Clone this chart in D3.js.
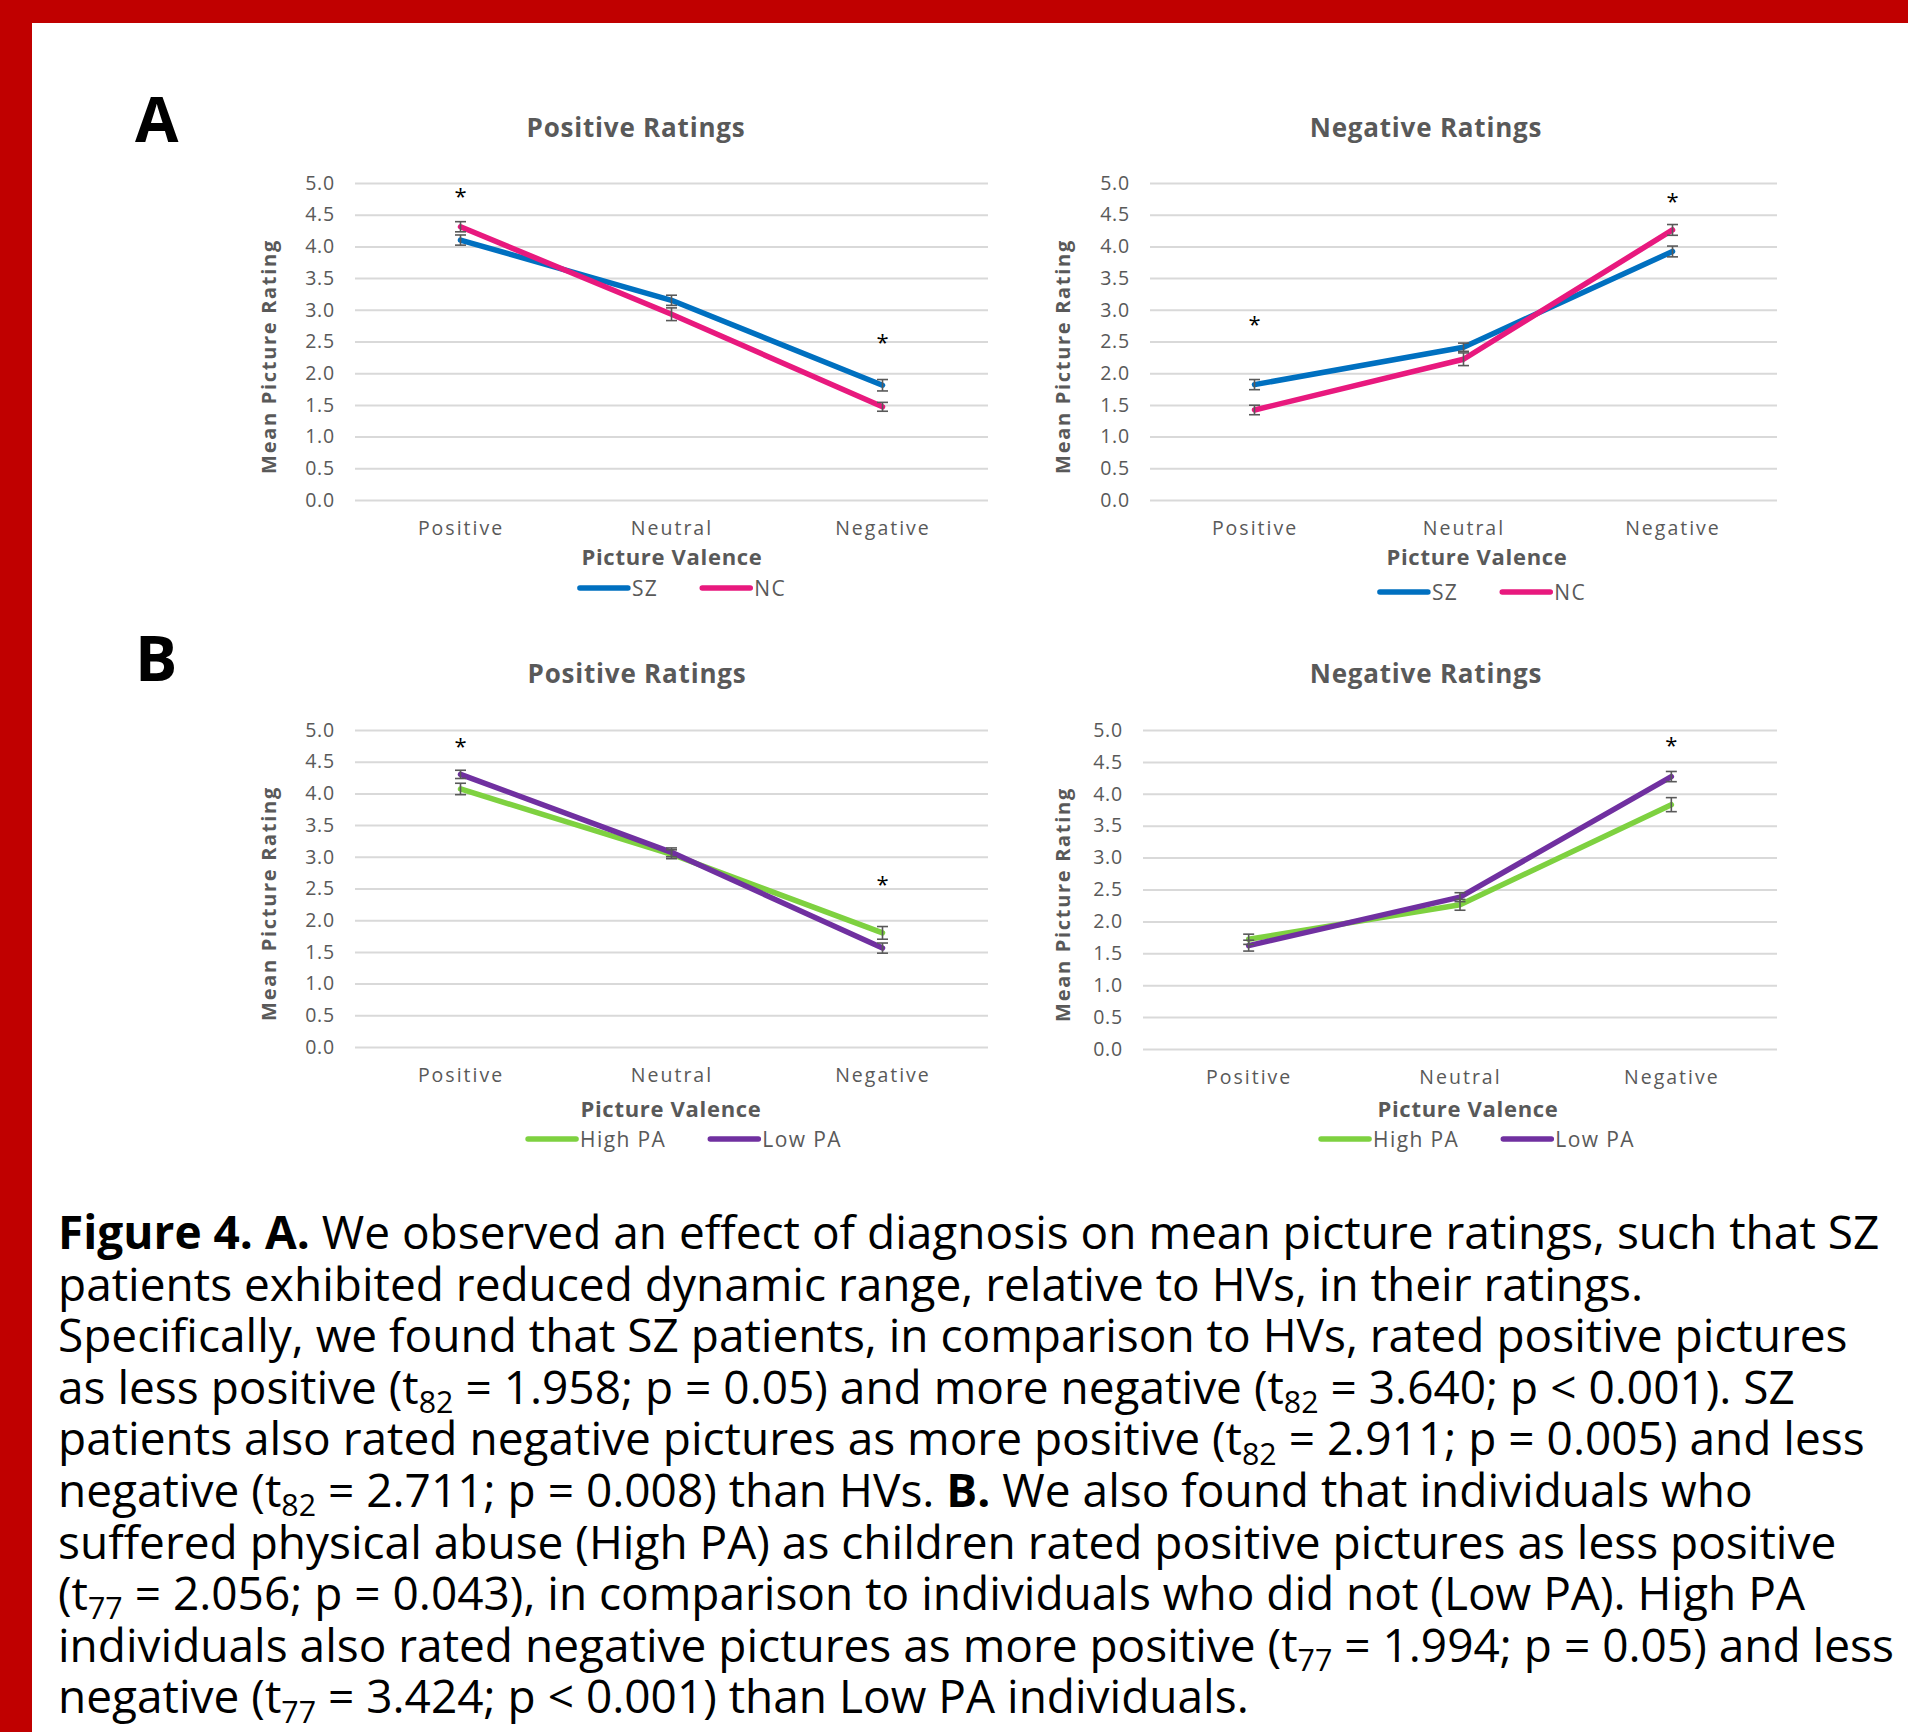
<!DOCTYPE html>
<html>
<head>
<meta charset="utf-8">
<script src="https://cdn.jsdelivr.net/npm/d3@7"></script>
<style>
body { margin: 0; background: #fff; }
text { font-family: "Open Sans", sans-serif; }
</style>
</head>
<body>
<script>
'use strict';

const W = 1908;
const H = 1732;

// categories / ticks
const valence = ['Positive', 'Neutral', 'Negative'];
const yTicks = [0, 0.5, 1, 1.5, 2, 2.5, 3, 3.5, 4, 4.5, 5];

// A - diagnosis, positive ratings
const szPositive = [4.10, 3.15, 1.81];
const szPositiveErr = [0.08, 0.08, 0.09];
const ncPositive = [4.31, 2.93, 1.47];
const ncPositiveErr = [0.08, 0.10, 0.07];
const sigAPositive = [4.86, null, 2.55];

// A - diagnosis, negative ratings
const szNegative = [1.82, 2.41, 3.92];
const szNegativeErr = [0.08, 0.065, 0.085];
const ncNegative = [1.42, 2.22, 4.26];
const ncNegativeErr = [0.075, 0.10, 0.085];
const sigANegative = [2.84, null, 4.78];

// B - physical abuse, positive ratings
const highPositive = [4.07, 3.04, 1.80];
const highPositiveErr = [0.09, 0.07, 0.10];
const lowPositive = [4.30, 3.07, 1.56];
const lowPositiveErr = [0.065, 0.07, 0.08];
const sigBPositive = [4.81, null, 2.63];

// B - physical abuse, negative ratings
const highNegative = [1.72, 2.26, 3.83];
const highNegativeErr = [0.08, 0.085, 0.11];
const lowNegative = [1.62, 2.38, 4.27];
const lowNegativeErr = [0.085, 0.07, 0.08];
const sigBNegative = [null, null, 4.82];

const caption = [
  '**Figure 4. A.** We observed an effect of diagnosis on mean picture ratings, such that SZ',
  'patients exhibited reduced dynamic range, relative to HVs, in their ratings.',
  'Specifically, we found that SZ patients, in comparison to HVs, rated positive pictures',
  'as less positive (t_{82} = 1.958; p = 0.05) and more negative (t_{82} = 3.640; p < 0.001). SZ',
  'patients also rated negative pictures as more positive (t_{82} = 2.911; p = 0.005) and less',
  'negative (t_{82} = 2.711; p = 0.008) than HVs. **B.** We also found that individuals who',
  'suffered physical abuse (High PA) as children rated positive pictures as less positive',
  '(t_{77} = 2.056; p = 0.043), in comparison to individuals who did not (Low PA). High PA',
  'individuals also rated negative pictures as more positive (t_{77} = 1.994; p = 0.05) and less',
  'negative (t_{77} = 3.424; p < 0.001) than Low PA individuals.'
];

const BLUE = '#0070c0';
const PINK = '#e8197e';
const GREEN = '#7ed140';
const PURPLE = '#7030a0';
const GREY = '#595959';

const svg = d3.select('body').append('svg').attr('width', W).attr('height', H);

// red frame
svg.append('rect').attr('x', 0).attr('y', 0).attr('width', W).attr('height', 23).attr('fill', '#c00000');
svg.append('rect').attr('x', 0).attr('y', 0).attr('width', 32).attr('height', H).attr('fill', '#c00000');

// panel letters
svg.append('text').text('A').attr('x', 135).attr('y', 142)
  .attr('font-size', 63).attr('font-weight', 700).attr('fill', '#000');
svg.append('text').text('B').attr('x', 135).attr('y', 681)
  .attr('font-size', 63).attr('font-weight', 700).attr('fill', '#000');

const panels = [
  {
    left: 355, right: 988, top: 183, bottom: 500,
    title: 'Positive Ratings', titleX: 636, titleY: 137,
    yTitleX: 269, xTitleX: 672, xTitleY: 565, legendX: 683, legendY: 588,
    series: [
      { name: 'SZ', values: szPositive, err: szPositiveErr, color: BLUE },
      { name: 'NC', values: ncPositive, err: ncPositiveErr, color: PINK }
    ],
    sig: sigAPositive
  },
  {
    left: 1150, right: 1777, top: 183, bottom: 500,
    title: 'Negative Ratings', titleX: 1426, titleY: 137,
    yTitleX: 1063, xTitleX: 1477, xTitleY: 565, legendX: 1483, legendY: 592,
    series: [
      { name: 'SZ', values: szNegative, err: szNegativeErr, color: BLUE },
      { name: 'NC', values: ncNegative, err: ncNegativeErr, color: PINK }
    ],
    sig: sigANegative
  },
  {
    left: 355, right: 988, top: 730, bottom: 1047,
    title: 'Positive Ratings', titleX: 637, titleY: 683,
    yTitleX: 269, xTitleX: 671, xTitleY: 1117, legendX: 685, legendY: 1139,
    series: [
      { name: 'High PA', values: highPositive, err: highPositiveErr, color: GREEN },
      { name: 'Low PA', values: lowPositive, err: lowPositiveErr, color: PURPLE }
    ],
    sig: sigBPositive
  },
  {
    left: 1143, right: 1777, top: 730, bottom: 1049,
    title: 'Negative Ratings', titleX: 1426, titleY: 683,
    yTitleX: 1063, xTitleX: 1468, xTitleY: 1117, legendX: 1478, legendY: 1139,
    series: [
      { name: 'High PA', values: highNegative, err: highNegativeErr, color: GREEN },
      { name: 'Low PA', values: lowNegative, err: lowNegativeErr, color: PURPLE }
    ],
    sig: sigBNegative
  }
];

function drawPanel(p) {
  const g = svg.append('g');
  const x = d3.scalePoint().domain(valence).range([p.left, p.right]).padding(0.5);
  const y = d3.scaleLinear().domain([0, 5]).range([p.bottom, p.top]);

  // y axis with gridlines
  const ya = g.append('g').attr('transform', `translate(${p.left},0)`)
    .call(d3.axisLeft(y).tickValues(yTicks).tickFormat(d3.format('.1f'))
      .tickSize(-(p.right - p.left)).tickPadding(20));
  ya.select('.domain').remove();
  ya.selectAll('line').attr('stroke', '#d9d9d9').attr('stroke-width', 2);
  ya.selectAll('text').attr('font-family', '"Open Sans", sans-serif').attr('font-size', 19.5)
    .attr('letter-spacing', 0.8).attr('fill', GREY);

  // x axis labels
  const xa = g.append('g').attr('transform', `translate(0,${p.bottom})`)
    .call(d3.axisBottom(x).tickSize(0).tickPadding(21));
  xa.select('.domain').remove();
  xa.selectAll('text').attr('font-family', '"Open Sans", sans-serif').attr('font-size', 19.5)
    .attr('letter-spacing', 2).attr('fill', GREY);

  // titles
  g.append('text').text(p.title).attr('x', p.titleX).attr('y', p.titleY)
    .attr('text-anchor', 'middle').attr('font-size', 26).attr('font-weight', 700)
    .attr('letter-spacing', 0.8).attr('fill', GREY);
  g.append('text').text('Picture Valence').attr('x', p.xTitleX).attr('y', p.xTitleY)
    .attr('text-anchor', 'middle').attr('font-size', 22).attr('font-weight', 700)
    .attr('letter-spacing', 0.7).attr('fill', GREY);
  g.append('text').text('Mean Picture Rating')
    .attr('transform', `translate(${p.yTitleX + 7},${(p.top + p.bottom) / 2 + 15}) rotate(-90)`)
    .attr('text-anchor', 'middle').attr('font-size', 20).attr('font-weight', 700)
    .attr('letter-spacing', 1.7).attr('fill', GREY);

  const line = d3.line().x((d, i) => x(valence[i])).y(d => y(d));

  p.series.forEach(s => {
    g.append('path').datum(s.values).attr('d', line)
      .attr('fill', 'none').attr('stroke', s.color).attr('stroke-width', 5.5)
      .attr('stroke-linejoin', 'round').attr('stroke-linecap', 'round');
  });

  // error bars
  p.series.forEach(s => {
    const eb = g.append('g').attr('stroke', GREY).attr('stroke-width', 1.6);
    s.values.forEach((v, i) => {
      const cx = x(valence[i]);
      const lo = y(v - s.err[i]);
      const hi = y(v + s.err[i]);
      eb.append('line').attr('x1', cx).attr('x2', cx).attr('y1', lo).attr('y2', hi);
      eb.append('line').attr('x1', cx - 5.5).attr('x2', cx + 5.5).attr('y1', lo).attr('y2', lo);
      eb.append('line').attr('x1', cx - 5.5).attr('x2', cx + 5.5).attr('y1', hi).attr('y2', hi);
    });
  });

  // significance markers
  g.selectAll('text.sig').data(p.sig.map((v, i) => ({ v, c: valence[i] })).filter(d => d.v !== null))
    .enter().append('text').attr('class', 'sig')
    .text('*').attr('x', d => x(d.c)).attr('y', d => y(d.v) + 12)
    .attr('text-anchor', 'middle').attr('font-family', '"DejaVu Sans", sans-serif')
    .attr('font-size', 22).attr('fill', '#000');

  // legend
  const items = p.series.map(s => {
    const it = g.append('g');
    it.append('line').attr('x1', 0).attr('x2', 48).attr('y1', 0).attr('y2', 0)
      .attr('stroke', s.color).attr('stroke-width', 5.5).attr('stroke-linecap', 'round');
    const t = it.append('text').text(s.name).attr('x', 52).attr('y', 7.5)
      .attr('font-size', 21).attr('letter-spacing', 1.4).attr('fill', GREY);
    return { it, w: 52 + t.node().getComputedTextLength() };
  });
  const gap = 44;
  const total = d3.sum(items, d => d.w) + gap * (items.length - 1);
  let cur = p.legendX - total / 2;
  items.forEach(d => {
    d.it.attr('transform', `translate(${cur},${p.legendY})`);
    cur += d.w + gap;
  });
}

panels.forEach(drawPanel);

// caption
const capG = svg.append('g');
const baseSize = 44;

function writeCaption(size) {
  capG.selectAll('*').remove();
  return caption.map((str, li) => {
    const t = capG.append('text').attr('x', 58).attr('y', 1249 + li * 51.6)
      .attr('font-size', size).attr('fill', '#000');
    let shifted = false;
    str.split(/(\*\*[^*]+\*\*|_\{\d+\})/).filter(s => s.length).forEach(seg => {
      const ts = t.append('tspan');
      if (seg.startsWith('**')) {
        ts.text(seg.slice(2, -2)).attr('font-weight', 700);
      } else if (seg.startsWith('_{')) {
        ts.text(seg.slice(2, -1)).attr('font-size', size * 0.66).attr('dy', size * 0.2);
        shifted = true;
        return;
      } else {
        ts.text(seg);
      }
      if (shifted) { ts.attr('dy', -size * 0.2); shifted = false; }
    });
    return t;
  });
}

// fit the font size: third line spans like the original, no wrapped line leaves the page
let lines = writeCaption(baseSize);
const widths = lines.map(t => t.node().getComputedTextLength());
const maxW = d3.max(widths.slice(1));
const fit = Math.min(1813 / widths[2], 1836 / maxW);
writeCaption(baseSize * fit);
</script>
</body>
</html>
